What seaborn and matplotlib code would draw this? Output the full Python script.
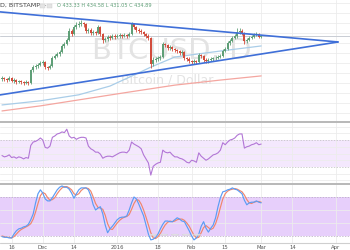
import matplotlib
matplotlib.use("Agg")
import matplotlib.pyplot as plt
from matplotlib.patches import Rectangle, Circle
import numpy as np
import pandas as pd
import seaborn as sns

# ---------------- data (daily candles, BTCUSD) ----------------
opens = [342, 344, 341, 339, 344, 337, 339, 335, 337, 335,
         333, 335, 333, 361, 367, 370, 372, 376, 378, 367,
         365, 370, 387, 391, 396, 400, 413, 417, 426, 446,
         439, 454, 459, 461, 463, 461, 446, 448, 441, 443,
         441, 454, 439, 426, 428, 433, 430, 435, 433, 435,
         437, 435, 437, 435, 439, 461, 454, 448, 446, 443,
         439, 435, 430, 374, 383, 385, 387, 389, 417, 415,
         409, 411, 406, 404, 402, 398, 400, 387, 385, 380,
         378, 380, 378, 393, 391, 383, 380, 383, 385, 386,
         387, 389, 391, 402, 406, 419, 424, 430, 435, 443,
         446, 441, 424, 426, 430, 433, 437, 439, 433]
highs = [347, 346, 344, 348, 346, 343, 341, 340, 339, 338,
         339, 337, 364, 371, 374, 377, 380, 382, 381, 370,
         374, 391, 395, 400, 405, 417, 422, 431, 452, 450,
         459, 465, 467, 469, 466, 463, 453, 451, 447, 446,
         458, 456, 441, 433, 437, 436, 439, 438, 439, 441,
         440, 441, 440, 444, 466, 463, 456, 451, 449, 446,
         442, 438, 432, 388, 390, 392, 394, 421, 420, 418,
         415, 413, 409, 407, 405, 404, 402, 390, 388, 383,
         384, 383, 397, 396, 394, 386, 387, 389, 389, 391,
         393, 395, 406, 410, 423, 428, 434, 439, 452, 453,
         449, 444, 431, 434, 437, 441, 443, 441, 436]
lows = [338, 338, 335, 336, 334, 333, 331, 332, 331, 329,
        330, 329, 331, 357, 363, 366, 369, 372, 363, 360,
        362, 368, 384, 388, 392, 398, 409, 414, 423, 434,
        436, 450, 455, 456, 455, 442, 442, 437, 437, 436,
        438, 434, 420, 422, 424, 426, 427, 429, 430, 431,
        431, 432, 431, 432, 436, 449, 444, 442, 439, 435,
        431, 425, 366, 370, 378, 381, 383, 386, 410, 405,
        405, 402, 400, 398, 394, 394, 383, 380, 376, 373,
        374, 373, 375, 386, 379, 376, 377, 380, 381, 382,
        384, 386, 389, 399, 404, 416, 421, 427, 431, 440,
        437, 418, 420, 423, 427, 430, 434, 430, 431]
closes = [344, 341, 339, 344, 337, 339, 335, 337, 335, 333,
          335, 333, 361, 367, 370, 372, 376, 378, 367, 365,
          370, 387, 391, 396, 400, 413, 417, 426, 446, 439,
          454, 459, 461, 463, 461, 446, 448, 441, 443, 441,
          454, 439, 426, 428, 433, 430, 435, 433, 435, 437,
          435, 437, 435, 439, 461, 454, 448, 446, 443, 439,
          435, 430, 374, 383, 385, 387, 389, 417, 415, 409,
          411, 406, 404, 402, 398, 400, 387, 385, 380, 378,
          380, 378, 393, 391, 383, 380, 383, 385, 386, 387,
          389, 391, 402, 406, 419, 424, 430, 435, 443, 446,
          441, 424, 426, 430, 433, 437, 439, 433, 435]

rsi = [47, 45, 46, 48, 44, 45, 43, 45, 44, 42,
       44, 43, 62, 67, 68, 70, 73, 70, 59, 58,
       61, 74, 76, 79, 80, 82, 81, 86, 76, 73,
       74, 71, 73, 74, 74, 73, 61, 57, 55, 52,
       52, 49, 43, 45, 46, 46, 45, 47, 49, 51,
       52, 52, 51, 55, 67, 64, 62, 60, 57, 48,
       42, 36, 18, 31, 34, 36, 37, 55, 52, 51,
       52, 48, 45, 45, 43, 42, 40, 37, 36, 40,
       39, 37, 51, 46, 43, 40, 42, 45, 48, 49,
       51, 55, 66, 63, 67, 70, 71, 73, 77, 79,
       79, 58, 60, 61, 63, 64, 66, 63, 64]

stoch_k = [19, 18, 18, 17, 17, 23, 28, 31, 32, 34,
           35, 38, 45, 54, 71, 85, 91, 86, 77, 74,
           74, 79, 85, 91, 95, 97, 95, 95, 92, 86,
           78, 85, 91, 94, 94, 94, 91, 82, 68, 60,
           63, 65, 54, 37, 25, 31, 35, 40, 45, 48,
           49, 49, 51, 60, 71, 80, 77, 69, 60, 51,
           37, 23, 14, 15, 18, 23, 31, 38, 43, 43,
           42, 42, 45, 48, 46, 43, 42, 35, 28, 20,
           14, 17, 23, 35, 42, 32, 26, 32, 37, 48,
           65, 79, 88, 89, 91, 92, 94, 92, 91, 88,
           85, 75, 68, 71, 72, 72, 74, 72, 71]
stoch_d = [20, 19, 18, 18, 17, 19, 23, 27, 30, 32,
           34, 36, 39, 46, 57, 70, 82, 87, 85, 79,
           75, 76, 79, 85, 90, 94, 96, 96, 94, 91,
           85, 83, 85, 90, 93, 94, 93, 89, 80, 70,
           64, 63, 61, 52, 39, 31, 30, 35, 40, 44,
           47, 49, 50, 53, 61, 70, 76, 75, 69, 60,
           49, 37, 25, 17, 16, 19, 24, 31, 37, 41,
           43, 42, 43, 45, 46, 46, 44, 40, 35, 28,
           21, 17, 18, 25, 33, 36, 33, 30, 32, 39,
           50, 64, 77, 85, 89, 91, 92, 93, 92, 90,
           88, 83, 76, 71, 70, 72, 73, 73, 72]

# moving averages (read at a few days)
ma_fast_days = [0, 16, 32, 45, 55, 62, 72, 91, 108]
ma_fast_vals = [285, 294, 307, 326, 350, 367, 389, 402, 413]
ma_slow_days = [0, 16, 32, 53, 72, 91, 108]
ma_slow_vals = [272, 283, 296, 313, 328, 339, 348]

# triangle trend lines (day, price)
upper_days = [-1, 140]
upper_vals = [487, 421.6]
lower_days = [-1, 140]
lower_vals = [306.6, 421.6]

tick_days = [4, 17, 30, 48, 65, 79, 93, 108, 121, 139]
tick_labels = ["16", "Dec", "14", "2016", "18", "Feb", "15", "Mar", "14", "Apr"]

header_left = "D, BITSTAMP  -"
header_ohlc = "O 433.33 H 434.58 L 431.05 C 434.89"
watermark_1 = "BTCUSD, D"
watermark_2 = "Bitcoin / Dollar"

# ---------------- styling ----------------
sns.set_theme(style="white")
plt.rcParams['font.family'] = ['DejaVu Sans']

GREEN = "#5f9f77"
RED = "#d24c3c"
GRID = "#ececec"
SEP = "#b8b8b8"

df = pd.DataFrame({"day": np.arange(len(closes)), "open": opens, "high": highs,
                   "low": lows, "close": closes, "rsi": rsi, "k": stoch_k, "d": stoch_d})

W, H = 350, 250
fig = plt.figure(figsize=(3.5, 2.5), dpi=100)
fig.patch.set_facecolor("white")


def add(top, bottom):
    return fig.add_axes([0, 1 - bottom / H, 1, (bottom - top) / H])


ax_p = add(0, 122)
ax_r = add(122, 184)
ax_s = add(184, 243)

XMIN, XMAX = -0.83, 145
for ax in (ax_p, ax_r, ax_s):
    ax.set_xlim(XMIN, XMAX)
    ax.set_xticks(tick_days)
    ax.set_xticklabels([])
    ax.tick_params(length=0, pad=1)
    ax.set_yticklabels([])
    ax.set_facecolor("white")
    for s in ax.spines.values():
        s.set_visible(False)
    ax.grid(True, axis="both", color=GRID, lw=0.6, zorder=0)
    ax.set_axisbelow(True)

# ---------- price panel ----------
ax_p.set_ylim(248, 512.7)
ax_p.set_yticks(np.arange(267.5, 512, 21.7))

ax_p.text(0.49, 0.585, watermark_1, transform=ax_p.transAxes, ha="center", va="center",
          fontsize=21, color="#e3e3e3", zorder=1)
ax_p.text(0.477, 0.345, watermark_2, transform=ax_p.transAxes, ha="center", va="center",
          fontsize=9, color="#e3e3e3", zorder=1)

ax_p.axhline(closes[-1], color="#c9cdd4", lw=0.7, zorder=1.5)

sns.lineplot(x=ma_slow_days, y=ma_slow_vals, ax=ax_p, color="#f4a6a0", lw=0.9, zorder=2)
sns.lineplot(x=ma_fast_days, y=ma_fast_vals, ax=ax_p, color="#a9cde8", lw=0.9, zorder=2)

up = df["close"] >= df["open"]
colors = np.where(up, GREEN, RED)
ax_p.vlines(df["day"], df["low"], df["high"], colors=colors, lw=0.6, zorder=3)
body = (df["close"] - df["open"]).abs().clip(lower=1.0)
ax_p.bar(df["day"], body, bottom=np.minimum(df["open"], df["close"]), width=0.8,
         color=colors, lw=0, zorder=4)

sns.lineplot(x=upper_days, y=upper_vals, ax=ax_p, color="#3f6fd8", lw=1.2, zorder=5)
sns.lineplot(x=lower_days, y=lower_vals, ax=ax_p, color="#3f6fd8", lw=1.2, zorder=5)

ax_p.text(0.0, 0.955, header_left, transform=ax_p.transAxes, ha="left", va="center",
          fontsize=4.6, color="#444444", zorder=6)
ax_p.text(0.163, 0.955, header_ohlc, transform=ax_p.transAxes, ha="left", va="center",
          fontsize=3.6, color=GREEN, zorder=6)
for px in (40, 47):
    ax_p.add_patch(Rectangle((px / W, 0.935), 5 / W, 4 / 122, transform=ax_p.transAxes,
                             facecolor="#e4e4e4", edgecolor="#cccccc", lw=0.3, zorder=6))

# ---------- RSI panel ----------
ax_r.set_ylim(4.8, 96.7)
ax_r.set_yticks([10, 20, 40, 50, 60, 80, 90])
ax_r.axhspan(30, 70, color="#f4e8fd", zorder=0.5, lw=0)
for lvl in (30, 70):
    ax_r.axhline(lvl, color="#bdbdbd", lw=0.5, ls=(0, (2, 2)), zorder=1)
sns.lineplot(data=df, x="day", y="rsi", ax=ax_r, color="#b276d6", lw=0.8, zorder=3)
ax_r.axhline(96.7, color=SEP, lw=1.4, zorder=4, clip_on=False)

# ---------- Stochastic panel ----------
ax_s.set_ylim(9.2, 100)
ax_s.set_yticks([40, 60])
ax_s.axhspan(20, 80, color="#e7cffb", zorder=0.5, lw=0)
for lvl in (20, 80):
    ax_s.axhline(lvl, color="#b5a9bf", lw=0.5, ls=(0, (2, 2)), zorder=1)
sns.lineplot(data=df, x="day", y="d", ax=ax_s, color="#f0866c", lw=0.85, zorder=3)
sns.lineplot(data=df, x="day", y="k", ax=ax_s, color="#5b9cf4", lw=0.85, zorder=3)
ax_s.axhline(100, color=SEP, lw=1.4, zorder=4, clip_on=False)
ax_s.axhline(9.2, color="#cfcfcf", lw=0.8, zorder=4, clip_on=False)

for px in (153, 164, 175, 186, 197):
    ax_s.add_patch(Circle((px / W, 0.14), 0.011, transform=ax_s.transAxes,
                          facecolor="#e9e9e9", edgecolor="#d0d0d0", lw=0.3, zorder=6))

ax_s.set_xticklabels(tick_labels, fontsize=3.8, color="#555555")
ax_s.tick_params(axis="x", pad=1.2)

for ax in (ax_p, ax_r, ax_s):
    leg = ax.get_legend()
    if leg:
        leg.remove()
    ax.set_xlabel("")
    ax.set_ylabel("")

fig.savefig("out.png", dpi=100, facecolor="white")
